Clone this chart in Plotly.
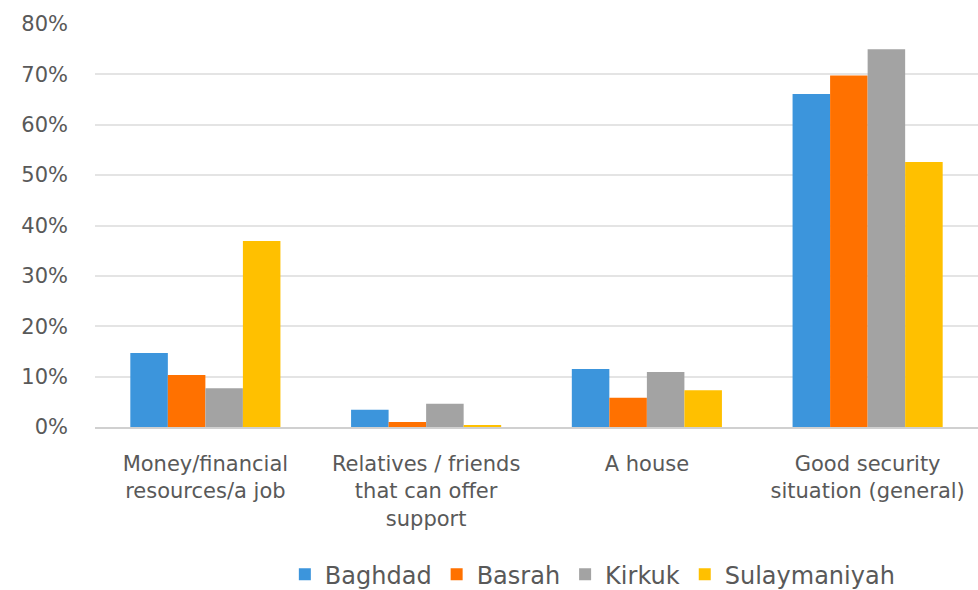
import plotly.graph_objects as go

categories = [
    "Money/financial<br>resources/a job",
    "Relatives / friends<br>that can offer<br>support",
    "A house",
    "Good security<br>situation (general)",
]
series_names = ["Baghdad", "Basrah", "Kirkuk", "Sulaymaniyah"]
baghdad = [14.7, 3.4, 11.5, 66.1]
basrah = [10.3, 1.0, 5.8, 69.8]
kirkuk = [7.7, 4.6, 10.9, 75.0]
sulaymaniyah = [36.9, 0.3, 7.3, 52.6]
colors = ["#3C95DC", "#FF7100", "#A3A3A3", "#FFC000"]
tick_vals = [0, 10, 20, 30, 40, 50, 60, 70, 80]
tick_text = ["0%", "10%", "20%", "30%", "40%", "50%", "60%", "70%", "80%"]

fig = go.Figure()
for name, vals, col in zip(series_names, [baghdad, basrah, kirkuk, sulaymaniyah], colors):
    fig.add_trace(go.Bar(name=name, x=categories, y=vals, marker_color=col,
                         marker_line_width=0))

fig.update_layout(
    width=978, height=590,
    margin=dict(l=95, r=0, t=24, b=163),
    paper_bgcolor="white", plot_bgcolor="white",
    barmode="group", bargap=0.32, bargroupgap=0,
    font=dict(family="DejaVu Sans, sans-serif", color="#595959", size=18),
    showlegend=True,
    legend=dict(orientation="h", xref="paper", x=0.215, xanchor="left",
                yref="container", y=0.026, yanchor="middle",
                font=dict(size=24), itemwidth=30, traceorder="normal"),
)
fig.update_yaxes(range=[0, 80], tickvals=tick_vals, ticktext=tick_text,
                 showgrid=True, gridcolor="#E4E4E4", gridwidth=1.5,
                 zeroline=False, showline=False, ticks="", automargin=False,
                 tickfont=dict(size=21, color="#595959"), ticklabelstandoff=26)
fig.update_xaxes(showline=True, linecolor="#D0D0D0", linewidth=1.5, ticks="",
                 automargin=False,
                 tickfont=dict(size=21, color="#595959"), ticklabelstandoff=17)

fig.write_html("out.html")
